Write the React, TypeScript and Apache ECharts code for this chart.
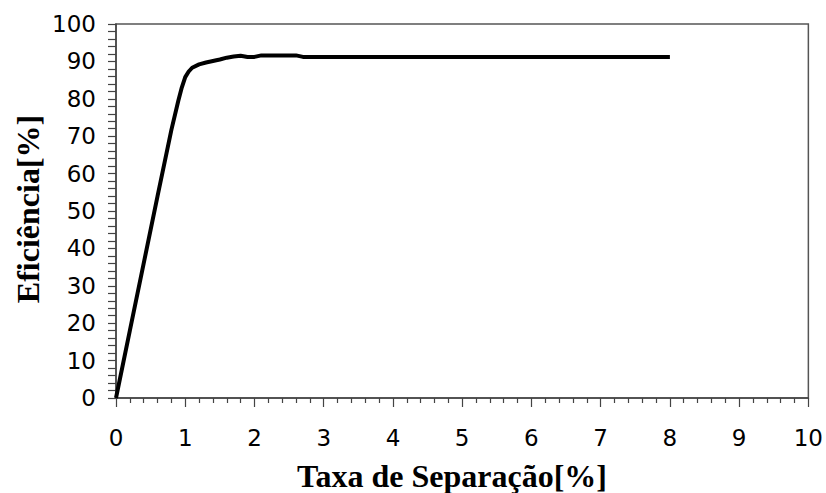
import React, { useEffect, useRef } from "react";
import * as echarts from "echarts";

const xValues = [0, 0.2, 0.4, 0.6, 0.8, 0.9, 0.95, 1.0, 1.05, 1.1, 1.2, 1.3, 1.4, 1.5, 1.6, 1.7, 1.8, 1.9, 2.0, 2.1, 2.6, 2.7, 8];
const yValues = [0, 18, 36, 54, 71.7, 79.5, 83, 85.8, 87.3, 88.3, 89.2, 89.7, 90.1, 90.5, 91.0, 91.3, 91.5, 91.2, 91.2, 91.6, 91.6, 91.2, 91.2];
const xTitle = "Taxa de Separação[%]";
const yTitle = "Eficiência[%]";

export default function App() {
  const ref = useRef<HTMLDivElement>(null);
  useEffect(() => {
    if (!ref.current) return;
    const chart = echarts.init(ref.current, undefined, { renderer: "svg" });
    const data = xValues.map((x, i) => [x, yValues[i]]);
    const axisColor = "#444";
    chart.setOption({
      animation: false,
      backgroundColor: "#fff",
      grid: { left: 116, right: 17, top: 24, bottom: 95, show: true, borderColor: "#555", borderWidth: 1.5 },
      xAxis: {
        type: "value",
        min: 0,
        max: 10,
        interval: 1,
        axisLine: { show: true, onZero: false, lineStyle: { color: axisColor, width: 1.5 } },
        axisTick: { show: true, inside: false, length: 9, lineStyle: { color: axisColor, width: 1.2 } },
        minorTick: { show: true, splitNumber: 5, length: 5, lineStyle: { color: axisColor, width: 1.2 } },
        splitLine: { show: false },
        axisLabel: { fontFamily: "DejaVu Sans", fontSize: 23, color: "#000", margin: 28 },
      },
      yAxis: {
        type: "value",
        min: 0,
        max: 100,
        interval: 10,
        axisLine: { show: true, onZero: false, lineStyle: { color: axisColor, width: 1.5 } },
        axisTick: { show: true, inside: false, length: 8, lineStyle: { color: axisColor, width: 1.2 } },
        minorTick: { show: true, splitNumber: 5, length: 8, lineStyle: { color: axisColor, width: 1.2 } },
        splitLine: { show: false },
        axisLabel: { fontFamily: "DejaVu Sans", fontSize: 23, color: "#000", margin: 20 },
      },
      graphic: [
        {
          type: "text",
          x: 452,
          y: 476,
          style: { text: xTitle, font: "bold 32px 'Liberation Serif'", fill: "#000", textAlign: "center", textVerticalAlign: "middle" },
        },
        {
          type: "text",
          x: 28,
          y: 209,
          rotation: Math.PI / 2,
          style: { text: yTitle, font: "bold 32px 'Liberation Serif'", fill: "#000", textAlign: "center", textVerticalAlign: "middle" },
        },
      ],
      series: [
        {
          type: "line",
          data,
          showSymbol: false,
          smooth: false,
          lineStyle: { color: "#000", width: 4 },
        },
      ],
    });
    return () => chart.dispose();
  }, []);
  return <div ref={ref} style={{ width: 826, height: 493, position: "absolute", left: 0, top: 0 }} />;
}
